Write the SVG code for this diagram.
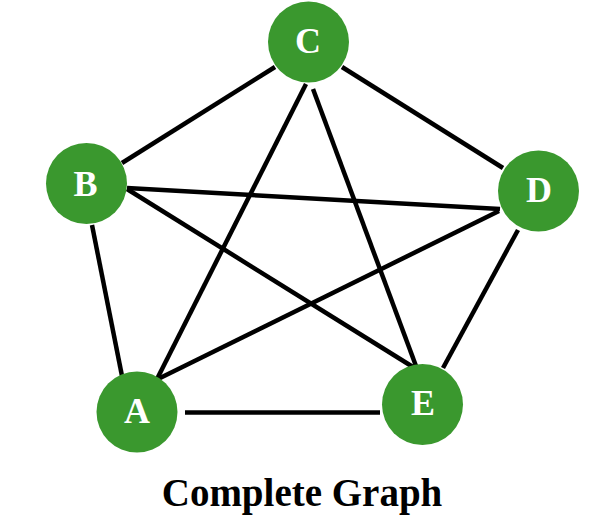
<svg xmlns="http://www.w3.org/2000/svg" width="600" height="526" viewBox="0 0 600 526">
<style>
.edge{stroke:#000;stroke-width:4.5;stroke-linecap:butt;fill:none}
.node circle{fill:#3a982e}
.node text{fill:#fff;font-family:"Liberation Serif","Times New Roman",serif;font-weight:bold;font-size:36px;text-anchor:middle}
.title{fill:#000;font-family:"Liberation Serif","Times New Roman",serif;font-weight:bold;font-size:39px;text-anchor:middle}
</style>
<rect width="600" height="526" fill="#fff"/>
<g id="edges">
<line class="edge" x1="122" y1="163" x2="275" y2="67"/>
<line class="edge" x1="342" y1="67" x2="503" y2="168"/>
<line class="edge" x1="313" y1="89" x2="416" y2="366"/>
<line class="edge" x1="306" y1="84" x2="157" y2="379"/>
<line class="edge" x1="127" y1="188" x2="500" y2="209"/>
<line class="edge" x1="127" y1="189" x2="413" y2="367"/>
<line class="edge" x1="499" y1="211" x2="156" y2="380"/>
<line class="edge" x1="518" y1="230" x2="443" y2="368"/>
<line class="edge" x1="92" y1="225" x2="122" y2="376"/>
<line class="edge" x1="185" y1="412.5" x2="380" y2="412.5"/>
</g>
<g id="node-C" class="node"><circle cx="308.5" cy="42" r="40.5"/><text x="308" y="53">C</text></g>
<g id="node-B" class="node"><circle cx="86.5" cy="183.5" r="40.5"/><text x="85.5" y="196">B</text></g>
<g id="node-D" class="node"><circle cx="538.5" cy="191" r="40.5"/><text x="539" y="202">D</text></g>
<g id="node-A" class="node"><circle cx="137" cy="412" r="40.5"/><text x="137" y="423">A</text></g>
<g id="node-E" class="node"><circle cx="422.5" cy="404.5" r="40.5"/><text x="423" y="415">E</text></g>
<text class="title" x="302" y="506">Complete Graph</text>
</svg>
